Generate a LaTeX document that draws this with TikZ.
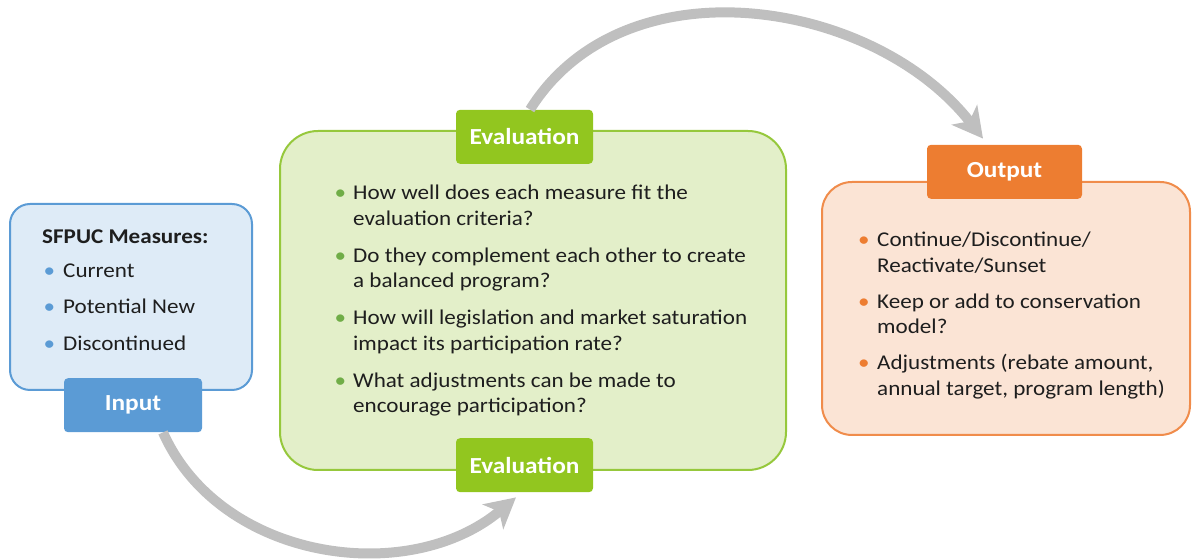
\documentclass[tikz,border=0pt]{standalone}
\usepackage{fontspec}
\setmainfont{Carlito}[FakeStretch=1.1]
\usetikzlibrary{arrows.meta, positioning}
\definecolor{color_in}{RGB}{91,155,213}
\definecolor{color_in_bg}{RGB}{222,235,247}
\definecolor{color_ev}{RGB}{146,198,31}
\definecolor{color_ev_line}{RGB}{150,200,60}
\definecolor{color_ev_bg}{RGB}{227,239,201}
\definecolor{color_ev_dot}{RGB}{112,173,71}
\definecolor{color_out}{RGB}{237,125,49}
\definecolor{color_out_line}{RGB}{240,140,75}
\definecolor{color_out_bg}{RGB}{251,228,213}
\definecolor{color_flow}{RGB}{191,191,191}
\definecolor{color_txt}{RGB}{30,30,30}
\newcommand{\dotin}[1]{\textcolor{#1}{\textbullet}}

\begin{document}
\begin{tikzpicture}[x=1pt, y=1pt,
box/.style={draw, line width=2pt, inner sep=0pt},
tab/.style={rounded corners=4pt, minimum height=54pt, inner sep=0pt, text=white,
  font=\fontsize{23}{26}\selectfont\bfseries},
txt/.style={inner sep=0pt, text=color_txt, font=\fontsize{21}{25.5}\selectfont},
flow/.style={draw=color_flow, line width=10pt, -{Stealth[length=30pt, width=32pt, inset=8pt]}}]
\useasboundingbox (0,0) rectangle (1192,559);

% INPUT
\node[box, draw=color_in, fill=color_in_bg, rounded corners=20pt,
  minimum width=242pt, minimum height=186pt] (in-box) at (131,262) {};
\node[tab, fill=color_in, minimum width=138pt, below=-13pt of in-box.south, xshift=2pt] (in-tab) {Input};
\node[txt, anchor=base west] (in-txt) at ([shift={(33,-40.5)}]in-box.north west) {%
\begin{tabular}[t]{@{}p{21pt}@{}l@{}}
\multicolumn{2}{@{}l@{}}{\bfseries SFPUC Measures:}\\[8.3pt]
\hspace{1.5pt}\dotin{color_in} & Current\\[11.2pt]
\hspace{1.5pt}\dotin{color_in} & Potential New\\[11.2pt]
\hspace{1.5pt}\dotin{color_in} & Discontinued
\end{tabular}};

% EVALUATION
\node[box, draw=color_ev_line, fill=color_ev_bg, rounded corners=38pt,
  minimum width=506pt, minimum height=339pt] (ev-box) at (533,258.5) {};
\node[tab, fill=color_ev, minimum width=137pt, above=-34pt of ev-box.north, xshift=-8.5pt] (ev-top) {Evaluation};
\node[tab, fill=color_ev, minimum width=137pt, below=-33pt of ev-box.south, xshift=-8.5pt] (ev-bot) {Evaluation};
\node[txt, anchor=base west] (ev-txt) at ([shift={(55.5,-70)}]ev-box.north west) {%
\begin{tabular}[t]{@{}p{18.5pt}@{}l@{}}
\dotin{color_ev_dot} & How well does each measure fit the\\
 & evaluation criteria?\\[11.5pt]
\dotin{color_ev_dot} & Do they complement each other to create\\
 & a balanced program?\\[11.5pt]
\dotin{color_ev_dot} & How will legislation and market saturation\\
 & impact its participation rate?\\[11.5pt]
\dotin{color_ev_dot} & What adjustments can be made to\\
 & encourage participation?
\end{tabular}};

% OUTPUT
\node[box, draw=color_out_line, fill=color_out_bg, rounded corners=30pt,
  minimum width=368pt, minimum height=253pt] (out-box) at (1006,250.5) {};
\node[tab, fill=color_out, minimum width=155pt, above=-18pt of out-box.north, xshift=-1.5pt] (out-tab) {Output};
\node[txt, anchor=base west] (out-txt) at ([shift={(37,-66)}]out-box.north west) {%
\begin{tabular}[t]{@{}p{19pt}@{}l@{}}
\dotin{color_out} & Continue/Discontinue/\\
 & Reactivate/Sunset\\[10.5pt]
\dotin{color_out} & Keep or add to conservation\\
 & model?\\[10.5pt]
\dotin{color_out} & Adjustments (rebate amount,\\
 & annual target, program length)
\end{tabular}};

% FLOW
\draw[flow] ([xshift=5.5pt]ev-top.north) to[out=58, in=128] ([xshift=-21.5pt, yshift=6pt]out-tab.north);
\draw[flow] ([xshift=30pt]in-tab.south) to[out=-66, in=220] ([xshift=-8.5pt, yshift=-5pt]ev-bot.south);
\end{tikzpicture}
\end{document}
